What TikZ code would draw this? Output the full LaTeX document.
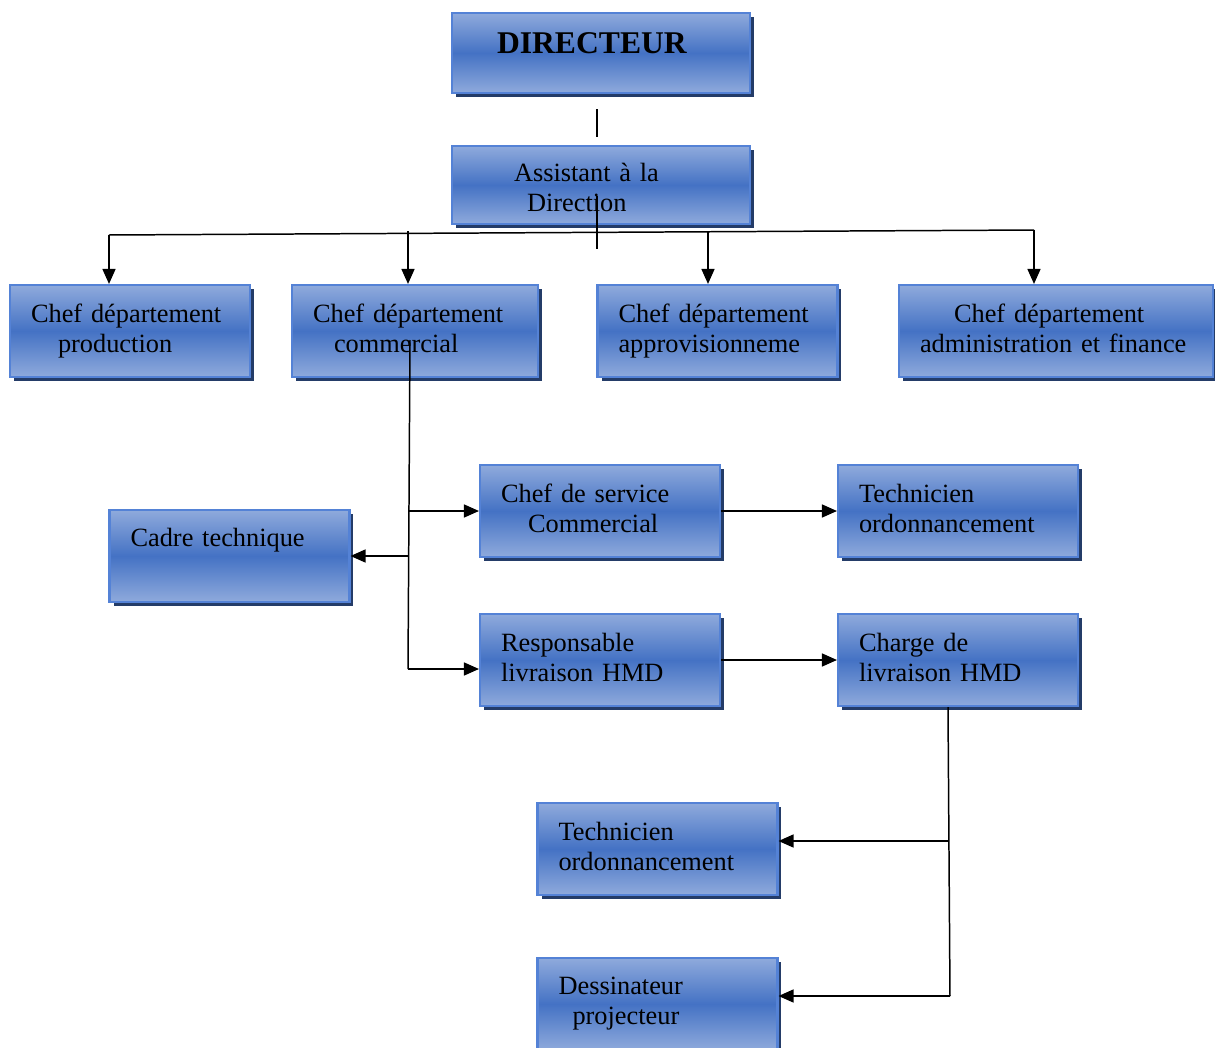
\documentclass[tikz,border=0pt]{standalone}
\usepackage{fontspec}
\setmainfont{Liberation Serif}
\usetikzlibrary{arrows.meta,shadows,calc}
\definecolor{bleuclair}{RGB}{143,170,220}
\definecolor{bleufonce}{RGB}{68,114,196}
\definecolor{bleubord}{RGB}{84,130,214}
\definecolor{ombre}{RGB}{36,60,104}
\begin{document}
\begin{tikzpicture}[x=0.02cm, y=-0.02cm,
    poste/.style={draw=bleubord, line width=1.2pt,
      top color=bleuclair, bottom color=bleuclair, middle color=bleufonce,
      general shadow={fill=ombre, shadow xshift=0.08cm, shadow yshift=-0.08cm},
      align=left, text width=3.96cm, inner xsep=0.42cm, minimum height=1.84cm,
      text depth=20.5pt,
      font=\fontsize{15}{17}\selectfont},
    lien/.style={line width=0.85pt},
    fleche/.style={-{Triangle[length=0.3cm,width=0.26cm]}}]
      \useasboundingbox (0,0) rectangle (1215,1048);

      % Direction
      \node[poste, text width=5.12cm, minimum height=1.6cm, text depth=0.38cm,
        font=\fontsize{18}{20}\selectfont\bfseries] (dir) at (601,53) {\hspace*{0.48cm}DIRECTEUR};
      \node[poste, text width=5.12cm, minimum height=1.56cm, text depth=14.8pt] (assist) at (601,185)
        {\hspace*{0.82cm}Assistant à la\\\hspace*{1.08cm}Direction};

      % Departements
      \node[poste] (prod) at (130,331) {Chef département\\\hspace*{0.54cm}production};
      \node[poste, text width=4.08cm] (comm) at (415,331) {Chef département\\\hspace*{0.42cm}commercial};
      \node[poste] (approv) at (717.5,331) {Chef département\\approvisionneme};
      \node[poste, text width=5.44cm] (admin) at (1056,331) {\hspace*{0.68cm}Chef département\\administration et finance};

      % Service commercial
      \node[poste, text depth=0.76cm] (cadre) at (229.5,556) {Cadre technique};
      \node[poste] (chefserv) at (600,511) {Chef de service\\\hspace*{0.54cm}Commercial};
      \node[poste] (tech1) at (958,511) {Technicien\\ordonnancement};
      \node[poste] (resp) at (600,660) {Responsable\\livraison HMD};
      \node[poste] (charge) at (958,660) {Charge de\\livraison HMD};
      \node[poste] (tech2) at (657.5,849) {Technicien\\ordonnancement};
      \node[poste] (dessin) at (657.5,1004) {Dessinateur\\\hspace*{0.28cm}projecteur};

      % Liaisons haut
      \draw[lien] ($(dir.south)+(-4,15)$) -- ($(assist.north)+(-4,-8)$);
      \draw[lien] ($(assist.south)+(-4,-29)$) -- ($(assist.south)+(-4,24)$);
      \coordinate (b1) at (109,235);
      \coordinate (b2) at (408,231);
      \coordinate (b3) at (708,231);
      \coordinate (b4) at (1034,230);
      \draw[lien] (b1) -- (b4);
      \draw[lien, fleche] (b1) -- (b1 |- prod.north);
      \draw[lien, fleche] (b2) -- (b2 |- comm.north);
      \draw[lien, fleche] (b3) -- (b3 |- approv.north);
      \draw[lien, fleche] (b4) -- (b4 |- admin.north);

      % Liaisons commercial
      \coordinate (c1) at (410,340);
      \coordinate (c2) at (408,669);
      \draw[lien] (c1) -- (c2);
      \draw[lien, fleche] (c2 |- chefserv.west) -- (chefserv.west);
      \draw[lien, fleche] (c2 |- cadre.east) -- (cadre.east);
      \draw[lien, fleche] (c2) -- (c2 -| resp.west);
      \draw[lien, fleche] (chefserv.east) -- (tech1.west);
      \draw[lien, fleche] (resp.east) -- (charge.west);

      % Liaisons livraison
      \coordinate (h1) at ($(charge.south)+(-10,0)$);
      \coordinate (h2) at (950,996);
      \coordinate (h3) at (949,841);
      \draw[lien] (h1) -- (h2);
      \draw[lien, fleche] (h3) -- (h3 -| tech2.east);
      \draw[lien, fleche] (h2) -- (h2 -| dessin.east);
\end{tikzpicture}
\end{document}
